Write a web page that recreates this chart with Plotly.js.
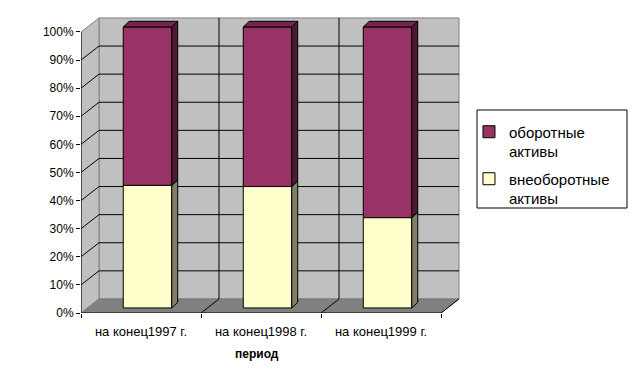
<!DOCTYPE html>
<html><head><meta charset="utf-8">
<script src="https://cdn.plot.ly/plotly-3.0.1.min.js"></script>
<style>body{margin:0;background:#fff}#chart{width:636px;height:383px}</style>
</head><body><div id="chart"></div>
<script>
// ---- data ----
const categories = ["на конец1997 г.", "на конец1998 г.", "на конец1999 г."];
const nonCurrentAssets = [43.6, 43.2, 32.1];   // внеоборотные активы, %
const currentAssets = [56.4, 56.8, 67.9];      // оборотные активы, %
const seriesNames = ["оборотные<br>активы", "внеоборотные<br>активы"];
const yTickVals = [0, 10, 20, 30, 40, 50, 60, 70, 80, 90, 100];
const xTitle = "период";

// ---- 3D styling geometry (axis units) ----
const wallDX = 0.15, wallDY = 5;
const barShiftX = 0.054, barShiftY = 1.8;
const barW = 0.404, barDX = 0.05, barDY = 2.0;
const FONT = "Liberation Sans, Arial, sans-serif";

const idx = categories.map((_, i) => i);
const xL = -0.5, xR = categories.length - 0.5;

const traces = [];
// front faces
traces.push({
  type: "bar", name: seriesNames[0], x: idx, y: currentAssets,
  base: nonCurrentAssets.map(v => v + barShiftY),
  width: barW, offset: -barW / 2 + barShiftX,
  marker: {color: "#993366", line: {color: "#000", width: 1}},
  hoverinfo: "skip", legendgroup: "g1"
});
traces.push({
  type: "bar", name: seriesNames[1], x: idx, y: nonCurrentAssets,
  base: nonCurrentAssets.map(() => barShiftY),
  width: barW, offset: -barW / 2 + barShiftX,
  marker: {color: "#FFFFCC", line: {color: "#000", width: 1}},
  hoverinfo: "skip", legendgroup: "g2"
});
// side and top faces derived from data
function face(xs, ys, color) {
  traces.push({type: "scatter", mode: "lines", x: xs, y: ys, fill: "toself",
    fillcolor: color, line: {color: "#000", width: 1}, showlegend: false, hoverinfo: "skip"});
}
idx.forEach(i => {
  const xr = i + barShiftX + barW / 2, xl = xr - barW;
  const b0 = barShiftY, b1 = b0 + nonCurrentAssets[i], b2 = b1 + currentAssets[i];
  face([xr, xr + barDX, xr + barDX, xr, xr], [b0, b0 + barDY, b1 + barDY, b1, b0], "#808066");
  face([xr, xr + barDX, xr + barDX, xr, xr], [b1, b1 + barDY, b2 + barDY, b2, b1], "#4D1A33");
  face([xl, xr, xr + barDX, xl + barDX, xl], [b2, b2, b2 + barDY, b2 + barDY, b2], "#73264D");
});

// walls & gridlines
const shapes = [];
const ln = (x0, y0, x1, y1, c) => shapes.push({type: "line", xref: "x", yref: "y", x0, y0, x1, y1,
  line: {color: c, width: 1}, layer: "below"});
shapes.push({type: "rect", xref: "x", yref: "y", x0: xL + wallDX, x1: xR + wallDX, y0: wallDY, y1: 100 + wallDY,
  fillcolor: "#C0C0C0", line: {color: "#808080", width: 1}, layer: "below"});
shapes.push({type: "path", xref: "x", yref: "y",
  path: `M${xL},0 L${xL + wallDX},${wallDY} L${xL + wallDX},${100 + wallDY} L${xL},100 Z`,
  fillcolor: "#C0C0C0", line: {color: "#808080", width: 1}, layer: "below"});
shapes.push({type: "path", xref: "x", yref: "y",
  path: `M${xL},0 L${xR},0 L${xR + wallDX},${wallDY} L${xL + wallDX},${wallDY} Z`,
  fillcolor: "#808080", line: {color: "#808080", width: 1}, layer: "below"});
yTickVals.forEach(v => {
  if (v > 0 && v < 100) {
    ln(xL + wallDX, v + wallDY, xR + wallDX, v + wallDY, "#000");
    ln(xL, v, xL + wallDX, v + wallDY, "#000");
  }
});
for (let b = 1; b < categories.length; b++) {
  const bx = xL + b;
  ln(bx + wallDX, wallDY, bx + wallDX, 100 + wallDY, "#000");
}
for (let b = 1; b <= categories.length; b++) {
  const bx = xL + b;
  ln(bx, 0, bx + wallDX, wallDY, "#000");
}
ln(xL, 0, xL, 100, "#000");
ln(xL, 0, xR, 0, "#000");
// legend box
shapes.push({type: "rect", xref: "paper", yref: "paper", x0: 1.0449, x1: 1.4406, y0: 0.3535, y1: 0.6835,
  line: {color: "#000", width: 1}, fillcolor: "rgba(0,0,0,0)"});

const layout = {
  width: 636, height: 383,
  margin: {l: 81, r: 176, t: 16, b: 70},
  paper_bgcolor: "#fff", plot_bgcolor: "#fff",
  font: {family: FONT, size: 12, color: "#000"},
  barmode: "overlay",
  showlegend: true,
  legend: {x: 1.0237, y: 0.665, xanchor: "left", yanchor: "top", valign: "top",
    traceorder: "grouped", tracegroupgap: 5, font: {family: FONT, size: 15, color: "#000"},
    bgcolor: "rgba(0,0,0,0)", borderwidth: 0},
  xaxis: {range: [xL, 2.658], tickvals: idx, ticktext: categories, ticks: "",
    ticklabelstandoff: 9,
    showgrid: false, zeroline: false, showline: false, fixedrange: true,
    tickfont: {family: FONT, size: 13, color: "#000"},
    minor: {tickvals: [-0.5, 0.5, 1.5, 2.5], ticks: "outside", ticklen: 4, tickcolor: "#000", showgrid: false}},
  yaxis: {range: [0, 105.69], tickvals: yTickVals, ticktext: yTickVals.map(v => v + "%"),
    ticks: "outside", ticklen: 4, tickcolor: "#000", showgrid: false, zeroline: false,
    showline: false, fixedrange: true, tickfont: {family: FONT, size: 12, color: "#000"}},
  shapes: shapes,
  annotations: [{text: "<b>" + xTitle + "</b>", xref: "x", yref: "paper", x: 0.97, y: -0.138,
    xanchor: "center", yanchor: "middle", showarrow: false, font: {family: FONT, size: 12, color: "#000"}}]
};
Plotly.newPlot("chart", traces, layout, {displayModeBar: false, staticPlot: true});
</script></body></html>
